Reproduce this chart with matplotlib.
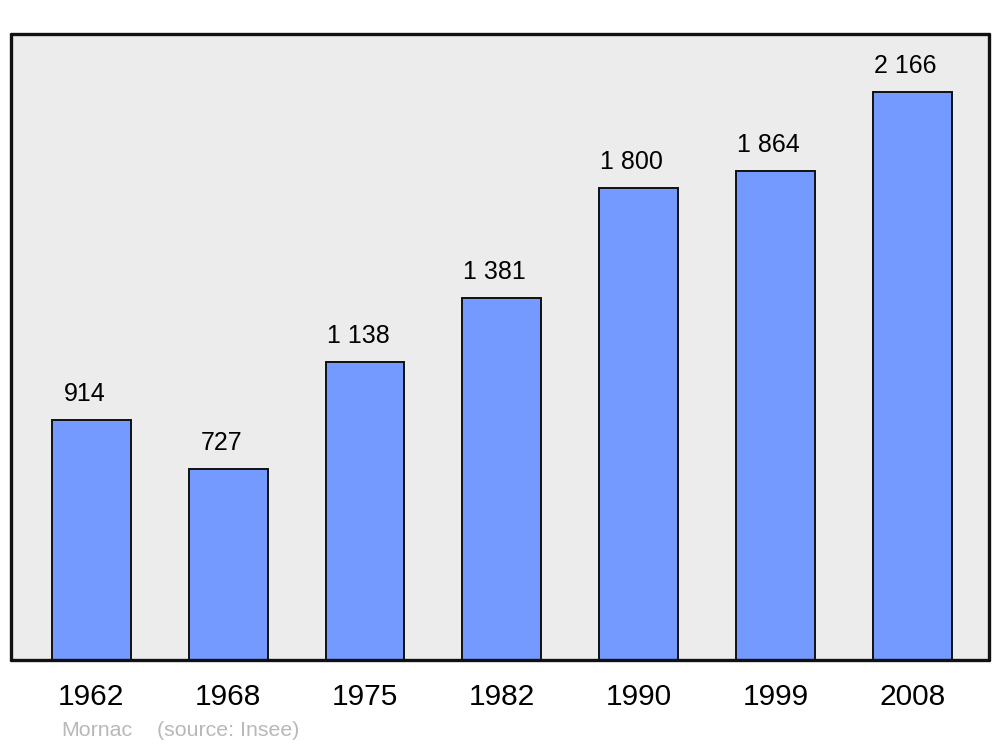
import matplotlib
matplotlib.use("Agg")
import matplotlib.pyplot as plt

plt.rcParams['font.family'] = ['Liberation Sans', 'DejaVu Sans']

years = ["1962", "1968", "1975", "1982", "1990", "1999", "2008"]
population = [914, 727, 1138, 1381, 1800, 1864, 2166]
labels = ["914", "727", "1 138", "1 381", "1 800", "1 864", "2 166"]
town = "Mornac"
source = "(source: Insee)"

fig = plt.figure(figsize=(10, 7.47), dpi=100)
ax = fig.add_axes([0.011, 0.1165, 0.978, 0.838])
ax.set_facecolor("#ececec")

x = list(range(len(years)))
ax.bar(x, population, width=0.577, color="#7499ff", edgecolor="#111111",
       linewidth=1.4, zorder=2)

for xi, v, lab in zip(x, population, labels):
    ax.annotate(lab, (xi, v), xytext=(-5.0, 13.7), textcoords="offset points",
                ha="center", va="baseline", fontsize=18, color="#000000")

ax.set_xlim(-0.588, 6.562)
ax.set_ylim(0, 2387)
ax.set_yticks([])
ax.set_xticks(x)
ax.set_xticklabels(years, fontsize=21.5)
ax.tick_params(axis="x", length=0, pad=16.5)

for s in ax.spines.values():
    s.set_linewidth(2.4)
    s.set_color("#111111")
    s.set_capstyle("round")
    s.set_joinstyle("round")

fig.text(0.061, 0.0215, town, fontsize=15.4, color="#b8b8b8", va="center", ha="left")
fig.text(0.157, 0.0215, source, fontsize=15.4, color="#b8b8b8", va="center", ha="left")

fig.savefig("out.png", dpi=100, facecolor="white")
